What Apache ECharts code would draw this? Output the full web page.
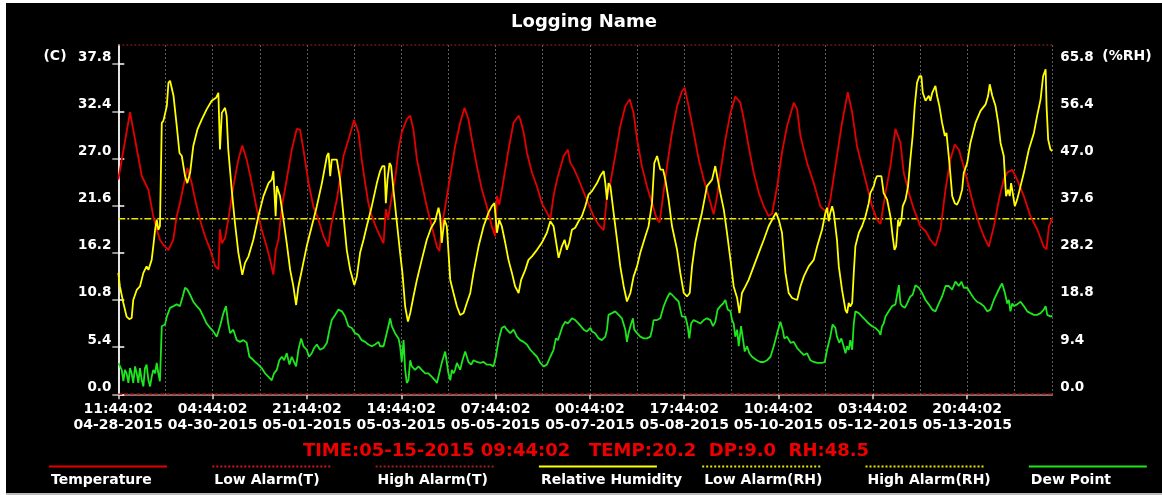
<!DOCTYPE html>
<html>
<head>
<meta charset="utf-8">
<script src="https://cdn.jsdelivr.net/npm/echarts@6/dist/echarts.min.js"></script>
<style>
  html, body { margin: 0; padding: 0; background: #ffffff; }
  #chart { width: 1162px; height: 495px; }
</style>
</head>
<body>
<div id="chart"></div>
<script>
// Logging session: hours since the first record
const startTime = Date.UTC(2015, 3, 28, 11, 44, 2);
const spanHours = 406;
const gridStepHours = 20.5;
const labelHours = [0, 41, 82, 123, 164, 205, 246, 287, 328, 369];

// Axis ticks
const tempTicks = [0.0, 5.4, 10.8, 16.2, 21.6, 27.0, 32.4, 37.8];
const rhTicks = [0.0, 9.4, 18.8, 28.2, 37.6, 47.0, 56.4, 65.8];
const tempMax = 40;
const rhMax = 65.8 * tempMax / 37.8;

// Alarm thresholds
const lowAlarmT = 0;
const highAlarmT = 40;
const lowAlarmRH = 35;
const highAlarmRH = 100;

// Readings: [hour, value]
const temperature = [
  [0,24.6],[5.1,32.3],[10.2,25.0],[13.1,23.4],[15.2,20.4],[16.7,18.9],[18.1,17.7],[19.6,17.1],[21.8,16.5],[23.9,17.7],
  [25.4,20.4],[26.8,21.9],[28.3,23.8],[30.0,25.9],[31.9,24.2],[33.4,22.3],[35.5,20.0],[37.7,18.1],[39.9,16.6],[42.1,14.7],
  [43.5,14.3],[44.2,18.9],[45.0,17.3],[46.4,17.9],[47.8,20.0],[50.0,23.8],[52.2,26.9],[53.9,28.5],[55.8,26.9],[58.0,24.2],
  [60.2,21.2],[62.3,18.9],[64.5,16.9],[66.0,15.4],[67.4,13.7],[68.5,16.6],[69.6,17.7],[71.1,21.5],[73.2,24.6],[75.4,28.0],
  [77.6,30.4],[79.0,30.3],[80.5,28.0],[82.7,24.2],[84.8,21.5],[87.0,20.0],[89.2,18.1],[91.3,16.9],[92.4,19.2],[93.2,19.4],
  [95.0,22.3],[97.9,27.3],[100.1,29.2],[102.5,31.4],[104.4,30.0],[105.8,26.9],[107.3,24.2],[108.7,21.9],[110.2,20.4],[112.4,18.9],
  [114.5,17.7],[115.3,17.3],[116.3,21.2],[117.2,20.0],[118.9,22.7],[120.3,24.6],[121.8,28.0],[123.2,30.0],[125.4,31.5],[126.9,31.9],
  [128.3,30.3],[129.8,26.9],[131.9,24.2],[134.1,21.5],[136.3,19.2],[138.5,16.9],[139.6,16.4],[140.6,19.2],[142.1,21.5],[144.3,25.0],
  [146.4,28.4],[148.6,31.1],[150.5,32.8],[152.2,31.5],[153.7,29.2],[155.9,26.1],[158.0,23.5],[160.2,21.5],[162.4,19.2],[163.8,18.1],
  [164.6,22.7],[165.6,21.7],[167.5,24.6],[169.6,28.0],[171.8,31.1],[174.0,31.9],[174.7,31.5],[176.2,30.0],[177.6,27.7],[179.8,25.4],
  [182.0,23.8],[184.1,21.9],[186.3,20.8],[187.8,20.1],[189.2,22.7],[190.7,24.6],[192.1,25.9],[193.6,27.3],[195.4,28.0],[196.5,26.5],
  [197.9,25.9],[200.1,24.6],[203.0,22.7],[206.6,20.4],[208.8,19.4],[211.0,18.8],[212.4,22.7],[213.9,24.2],[216.0,27.3],[218.2,30.7],
  [220.4,33.0],[222.3,33.8],[224.0,32.2],[225.5,29.2],[227.6,26.1],[229.8,23.8],[232.0,21.9],[234.2,20.0],[235.3,19.7],[236.8,22.7],
  [238.5,26.1],[240.7,30.0],[242.9,33.0],[245.0,34.7],[246.2,35.1],[247.9,33.0],[250.1,30.0],[252.3,26.9],[254.5,24.6],[256.6,22.7],
  [258.8,20.6],[260.3,22.7],[261.7,25.4],[263.9,29.2],[266.1,32.2],[268.2,34.1],[270.4,33.4],[271.9,31.5],[274.0,28.4],[276.2,25.4],
  [278.4,23.1],[280.6,21.5],[282.7,20.4],[284.2,20.7],[286.4,23.8],[288.5,27.7],[290.7,30.7],[293.6,33.4],[295.1,32.6],[296.5,29.6],
  [299.4,26.5],[302.3,24.2],[305.2,21.5],[308.1,20.8],[309.5,22.3],[311.7,26.1],[314.6,31.1],[317.1,34.6],[319.0,32.3],[321.1,28.4],
  [323.3,26.1],[325.5,23.8],[327.7,21.5],[329.8,20.0],[331.3,19.5],[333.5,23.1],[335.6,26.1],[337.8,30.4],[340.0,28.8],[341.4,25.4],
  [343.6,23.1],[345.8,21.2],[348.7,19.2],[350.9,18.7],[353.0,17.7],[355.2,17.0],[357.4,18.9],[359.6,23.5],[361.7,26.9],[363.6,28.6],
  [365.4,28.0],[367.5,26.1],[369.7,23.8],[371.9,21.5],[374.1,19.6],[376.2,18.1],[378.4,16.9],[380.6,19.2],[382.8,22.3],[384.9,24.6],
  [386.4,25.4],[388.6,25.7],[390.7,24.6],[393.6,22.7],[396.5,20.4],[399.4,18.9],[402.3,16.9],[403.5,16.6],[404.5,19.2],[406,20.2]
];

const humidity = [
  [0,24.2],[0.7,21.5],[2.2,18.2],[3.6,15.5],[4.8,15.0],[5.8,15.2],[6.5,18.8],[8.0,20.8],[9.4,21.5],[10.9,24.2],
  [12.3,25.5],[13.1,24.8],[14.5,26.8],[15.2,29.5],[16.0,32.8],[16.7,34.8],[17.4,32.8],[18.1,33.5],[18.9,54.1],[19.6,54.5],
  [21.1,57.5],[21.8,62.1],[22.5,62.5],[24.0,59.5],[25.4,53.5],[26.6,48.1],[27.6,47.5],[29.0,43.5],[30.0,42.1],[31.2,44.1],
  [32.6,49.5],[34.4,52.8],[36.3,54.8],[38.4,56.8],[40.6,58.5],[42.5,59.1],[43.5,60.1],[44.2,48.8],[45.0,56.1],[46.4,57.1],
  [47.1,55.5],[47.8,48.8],[49.3,40.8],[50.7,34.2],[52.2,28.2],[53.9,23.8],[55.1,26.2],[56.6,27.5],[58.7,30.8],[60.9,35.5],
  [63.1,39.5],[65.3,42.1],[66.7,42.8],[67.4,44.5],[68.4,35.5],[68.9,41.5],[70.3,39.5],[71.8,34.8],[73.2,30.2],[74.7,24.8],
  [76.1,21.5],[77.3,17.8],[78.3,21.5],[79.8,24.8],[81.9,29.5],[84.1,33.5],[86.3,37.5],[88.5,42.1],[90.7,47.5],[91.4,48.1],
  [92.1,43.5],[92.8,46.8],[93.5,46.5],[95.0,46.8],[96.4,42.8],[97.9,35.5],[99.3,28.8],[100.8,24.8],[102.6,21.8],[103.7,23.5],
  [105.1,28.2],[106.6,30.8],[108.0,33.5],[110.2,37.5],[112.4,42.1],[113.8,44.5],[114.8,45.5],[115.7,45.5],[116.3,38.1],[117.0,42.8],
  [117.9,46.1],[118.6,45.5],[119.6,40.8],[121.1,34.2],[122.5,28.2],[123.5,24.2],[124.7,17.5],[125.9,14.5],[126.9,16.2],[128.3,19.5],
  [129.8,22.8],[131.9,26.8],[134.1,30.8],[136.0,33.2],[137.7,34.5],[139.2,37.2],[139.9,35.5],[140.6,30.2],[141.1,32.2],[141.8,34.8],
  [142.8,33.5],[144.3,22.8],[145.7,20.2],[147.2,17.5],[148.6,15.8],[150.1,16.2],[151.5,18.2],[153.0,20.2],[154.4,24.2],[156.6,29.5],
  [158.8,33.5],[160.9,36.2],[162.4,37.5],[163.5,38.1],[164.6,32.2],[165.6,34.8],[166.7,33.5],[168.2,30.2],[169.6,26.8],[171.1,24.2],
  [172.5,21.5],[174.0,20.2],[175.1,22.8],[176.9,24.8],[178.3,26.8],[179.8,27.5],[182.0,28.8],[184.1,30.2],[186.3,32.2],[187.8,34.5],
  [189.2,33.5],[191.4,27.2],[192.8,29.5],[194.0,30.8],[195.0,28.8],[196.0,30.2],[197.2,32.8],[198.6,33.2],[200.1,34.5],[201.5,35.5],
  [203.0,37.5],[204.4,39.8],[205.9,40.5],[208.1,42.1],[209.5,43.5],[211.0,44.5],[211.7,42.1],[212.4,38.8],[213.1,42.1],[213.9,41.5],
  [215.3,36.2],[216.8,30.8],[218.2,25.5],[219.7,21.5],[221.1,18.5],[222.6,20.2],[224.0,23.5],[225.5,25.5],[226.9,28.2],[229.1,31.5],
  [230.5,33.5],[232.0,38.1],[233.0,46.1],[234.2,47.5],[234.9,47.5],[235.6,44.8],[236.8,44.8],[237.8,42.8],[239.2,38.8],[240.7,33.5],
  [242.9,28.8],[244.3,24.2],[245.8,20.2],[247.2,19.5],[248.4,20.2],[249.4,25.5],[250.8,30.2],[252.3,33.5],[253.7,36.2],[255.9,41.5],
  [258.1,42.8],[259.5,45.5],[260.3,43.5],[261.7,40.1],[263.2,36.8],[264.6,32.2],[266.1,26.8],[267.5,21.5],[269.0,19.2],[270.0,16.2],
  [271.1,20.2],[272.6,21.5],[274.0,22.8],[276.2,25.5],[278.4,28.2],[280.6,30.8],[282.7,33.5],[284.2,34.8],[285.9,36.2],[287.1,34.8],
  [288.5,32.2],[290.0,24.2],[291.4,20.2],[292.9,19.2],[295.1,18.8],[296.5,21.5],[298.0,23.5],[300.1,25.5],[302.3,26.8],[303.8,29.5],
  [305.9,32.8],[307.4,36.2],[308.1,37.2],[308.8,34.5],[309.5,36.2],[310.3,37.5],[311.0,36.2],[311.7,33.5],[312.4,30.8],[313.2,25.5],
  [314.6,20.8],[316.1,16.8],[316.8,16.2],[317.5,18.2],[318.2,17.5],[319.0,18.2],[319.7,24.2],[320.4,29.5],[321.9,32.2],[323.3,33.5],
  [324.8,35.5],[326.2,38.1],[326.9,40.1],[328.4,41.5],[329.1,42.8],[329.8,43.5],[331.7,43.5],[332.7,40.1],[334.2,38.8],[335.6,35.5],
  [336.6,31.5],[337.4,28.8],[338.1,29.5],[339.0,34.8],[339.5,33.5],[340.4,34.8],[341.0,37.5],[342.2,38.8],[343.3,41.5],[344.3,46.8],
  [345.3,51.5],[346.2,57.5],[347.2,62.1],[348.2,63.4],[349.1,63.4],[349.7,60.1],[350.9,58.5],[352.3,59.5],[353.0,58.5],[353.8,60.1],
  [355.2,61.5],[355.9,59.5],[356.9,57.5],[358.1,54.1],[359.3,51.5],[360.0,52.1],[360.7,48.8],[361.4,45.5],[362.5,39.5],[363.6,38.1],
  [364.6,37.8],[365.6,38.8],[366.8,40.8],[367.5,44.1],[369.0,46.1],[370.4,50.1],[372.6,54.1],[374.8,56.5],[377.0,57.8],[378.1,59.5],
  [378.8,61.8],[379.9,59.5],[381.3,57.5],[382.5,54.1],[383.5,50.1],[384.9,47.5],[385.9,39.5],[386.8,40.8],[387.5,39.5],[388.1,42.1],
  [388.8,40.1],[389.7,37.5],[390.7,38.8],[392.2,41.5],[393.6,44.1],[395.8,48.8],[398.0,52.1],[399.4,55.5],[400.9,58.8],[402.0,63.4],
  [403.1,64.8],[403.5,57.5],[404.2,50.8],[405.2,48.8],[406,48.5]
];

const dewPoint = [
  [0,3.6],[0.7,3.4],[1.5,2.8],[2.2,1.5],[2.9,2.8],[3.6,2.4],[4.4,1.3],[5.1,3.0],[5.8,2.4],[6.5,1.3],
  [7.3,3.2],[8.0,2.4],[8.7,1.3],[9.4,3.0],[10.2,1.6],[10.9,0.9],[11.6,3.0],[12.3,3.4],[13.1,1.6],[13.8,0.9],
  [14.5,2.0],[15.2,2.8],[16.0,2.4],[16.7,3.6],[17.4,2.4],[18.1,1.5],[18.9,7.8],[20.3,8.0],[21.1,8.9],[22.5,9.9],
  [24.0,10.1],[25.4,10.3],[26.8,10.1],[28.0,11.2],[29.0,12.2],[30.0,12.0],[31.2,11.4],[32.6,10.6],[34.1,10.1],[35.5,9.7],
  [37.0,8.9],[38.4,8.1],[39.9,7.6],[41.3,7.2],[42.8,6.6],[43.5,6.8],[44.2,7.8],[45.7,9.3],[46.8,10.1],[47.8,8.1],
  [48.6,7.0],[50.0,7.4],[51.5,6.2],[52.9,6.0],[54.4,6.2],[55.8,5.9],[57.0,4.3],[58.0,4.1],[59.5,3.7],[60.9,3.4],
  [62.3,3.0],[63.8,2.4],[65.3,2.0],[66.7,1.6],[67.7,2.4],[68.9,2.8],[70.0,3.9],[71.1,4.3],[72.1,3.9],[73.2,4.7],
  [74.4,3.4],[75.4,4.3],[76.4,3.7],[77.3,3.2],[78.3,5.1],[79.5,6.4],[80.5,5.5],[81.9,5.1],[82.9,4.3],[84.1,4.7],
  [85.1,5.3],[86.3,5.7],[87.7,5.1],[89.2,5.3],[90.7,5.9],[91.8,7.4],[92.8,8.5],[94.3,9.1],[95.7,9.7],[97.2,9.5],
  [98.6,8.9],[100.0,7.8],[101.5,7.6],[102.9,7.0],[104.4,6.8],[105.8,6.2],[107.3,6.0],[108.7,5.7],[110.2,5.5],[111.6,5.7],
  [113.1,6.0],[113.8,5.5],[115.3,5.5],[116.3,6.6],[117.4,7.8],[118.2,8.7],[118.9,7.8],[120.3,7.0],[121.8,6.4],[122.5,5.5],
  [123.2,3.7],[124.0,6.2],[124.7,2.8],[125.4,1.3],[126.1,1.6],[126.9,3.9],[127.6,3.2],[129.0,2.8],[130.5,3.2],[131.9,2.8],
  [133.4,2.4],[134.8,2.4],[136.3,2.0],[137.7,1.6],[138.5,1.3],[139.2,1.3],[140.6,3.6],[142.1,4.9],[142.8,5.1],[143.5,2.4],
  [144.3,1.6],[145.0,2.8],[145.7,2.4],[146.4,2.8],[147.2,3.6],[148.6,2.8],[149.6,3.9],[150.8,4.9],[151.5,4.7],[152.2,3.7],
  [153.4,3.4],[154.4,3.9],[155.9,3.7],[157.3,3.6],[158.8,3.7],[160.2,3.4],[161.7,3.4],[163.1,3.2],[164.1,4.3],[165.3,6.2],
  [166.7,7.6],[167.9,7.8],[168.9,7.4],[170.4,7.0],[171.8,7.4],[173.3,6.6],[174.7,6.2],[176.2,6.0],[177.6,5.7],[179.1,5.1],
  [180.5,4.7],[182.0,4.3],[183.4,3.6],[184.9,3.2],[186.3,3.4],[187.8,4.3],[189.2,5.1],[190.2,6.4],[191.1,6.2],[192.1,7.0],
  [193.1,7.8],[194.3,8.3],[195.4,8.1],[197.2,8.7],[198.6,8.5],[200.1,8.1],[202.3,7.4],[203.7,7.2],[205.2,7.6],[205.9,7.2],
  [207.3,7.0],[208.8,6.4],[210.2,6.2],[211.7,6.6],[212.4,7.4],[213.1,9.1],[214.6,9.3],[216.0,9.5],[217.5,9.1],[218.9,8.7],
  [220.4,7.4],[221.1,6.0],[221.8,7.0],[222.6,7.8],[223.7,8.7],[224.3,7.4],[225.5,7.0],[226.9,6.6],[228.4,6.4],[229.8,6.4],
  [231.3,6.6],[232.0,7.4],[232.7,8.5],[234.2,8.5],[235.6,8.7],[237.1,10.1],[238.5,11.0],[239.7,11.6],[240.7,11.4],[242.1,11.0],
  [243.6,10.6],[244.3,9.7],[245.0,8.9],[246.5,8.9],[247.5,7.8],[248.2,6.4],[249.0,8.1],[250.1,8.5],[251.6,8.3],[253.0,8.1],
  [254.5,8.5],[255.9,8.7],[257.4,8.5],[258.5,7.8],[259.5,8.3],[260.5,9.7],[261.7,10.1],[262.9,10.4],[263.9,10.8],[264.9,9.7],
  [266.1,9.5],[266.8,8.5],[267.5,8.1],[268.2,6.6],[269.0,7.4],[269.7,5.5],[270.7,7.8],[271.6,6.2],[272.3,4.9],[273.3,5.5],
  [274.3,4.7],[275.5,4.3],[276.5,4.1],[277.6,3.9],[279.1,3.7],[280.6,3.7],[282.0,3.9],[283.5,4.3],[284.9,5.5],[286.4,7.0],
  [287.8,8.3],[288.8,7.4],[289.5,6.4],[290.7,6.6],[292.2,5.9],[293.6,6.0],[295.1,5.3],[296.5,4.9],[298.0,4.5],[299.4,4.7],
  [300.8,3.9],[302.3,3.7],[303.8,3.6],[305.9,3.6],[307.1,3.7],[308.1,5.1],[309.5,6.6],[310.5,8.0],[311.7,7.6],[312.4,6.6],
  [313.4,5.9],[314.3,6.4],[315.3,5.5],[316.1,4.7],[316.8,5.5],[317.5,5.1],[318.2,6.2],[319.0,5.1],[319.7,8.1],[320.4,9.5],
  [321.9,9.3],[323.3,8.9],[324.8,8.5],[326.2,8.1],[327.7,7.8],[329.1,7.6],[330.6,7.2],[331.3,6.8],[332.0,7.8],[332.7,8.1],
  [333.5,8.9],[334.9,9.5],[336.4,10.1],[337.8,10.3],[338.5,10.1],[339.3,12.5],[340.0,10.4],[340.7,10.1],[341.9,9.9],[342.9,10.4],
  [344.3,11.2],[345.3,11.4],[346.5,12.5],[348.0,12.2],[349.4,11.6],[350.9,10.8],[352.3,10.3],[353.8,9.7],[355.2,9.5],[356.7,10.4],
  [358.1,11.2],[359.6,12.4],[361.0,12.4],[362.5,12.0],[363.9,12.9],[365.4,12.4],[366.5,12.9],[367.5,12.2],[369.0,12.2],[370.4,11.6],
  [371.9,11.0],[373.3,10.6],[374.8,10.4],[376.2,10.1],[377.7,9.5],[379.1,9.7],[380.6,10.8],[382.0,11.6],[383.5,12.4],[384.2,12.7],
  [385.4,11.6],[386.4,10.4],[387.1,10.8],[387.8,9.5],[388.6,10.4],[389.3,10.1],[390.7,10.3],[392.2,10.6],[393.6,10.1],[395.1,9.5],
  [396.5,9.3],[398.0,9.1],[399.4,9.1],[400.9,9.3],[402.3,9.7],[403.1,10.1],[403.8,9.1],[405.2,8.9],[406,9.0]
];

const lastReading = { time: '05-15-2015 09:44:02', temp: 20.2, dp: 9.0, rh: 48.5 };

const FONT = 'DejaVu Sans';
const RED = '#e40000';
const YELLOW = '#ffff00';
const GREEN = '#1ee61e';
const ALARM_RED = '#d01818';
const ALARM_YELLOW = '#e8e800';

function pad(n) { return (n < 10 ? '0' : '') + n; }
function stamp(h) {
  const d = new Date(startTime + h * 3600000);
  return pad(d.getUTCHours()) + ':' + pad(d.getUTCMinutes()) + ':' + pad(d.getUTCSeconds()) + '\n' +
    pad(d.getUTCMonth() + 1) + '-' + pad(d.getUTCDate()) + '-' + d.getUTCFullYear();
}
function flat(v) { return [[0, v], [spanHours, v]]; }

const seriesDefs = [
  { name: 'Temperature', data: temperature, axis: 0, color: RED, type: 'solid', width: 1.8 },
  { name: 'Low Alarm(T)', data: flat(lowAlarmT), axis: 0, color: ALARM_RED, type: [4, 2], width: 1.5, clip: false },
  { name: 'High Alarm(T)', data: flat(highAlarmT), axis: 0, color: '#a02020', type: [2, 2], width: 1, clip: false },
  { name: 'Relative Humidity', data: humidity, axis: 1, color: YELLOW, type: 'solid', width: 1.8 },
  { name: 'Low Alarm(RH)', data: flat(lowAlarmRH), axis: 1, color: ALARM_YELLOW, type: [7, 2, 2, 2], width: 1.5 },
  { name: 'High Alarm(RH)', data: flat(highAlarmRH), axis: 1, color: ALARM_YELLOW, type: [7, 2, 2, 2], width: 1.5 },
  { name: 'Dew Point', data: dewPoint, axis: 0, color: GREEN, type: 'solid', width: 1.8 }
];

const legendGraphics = [];
seriesDefs.forEach(function (s, i) {
  const x = 49 + i * 163.3;
  legendGraphics.push({
    type: 'line', shape: { x1: x, y1: 466.5, x2: x + 118, y2: 466.5 },
    style: { stroke: s.color, lineWidth: 2, lineDash: s.type === 'solid' ? null : [2, 2] }
  });
  legendGraphics.push({
    type: 'text', x: x + 2, y: 480,
    style: { text: s.name, fill: '#ffffff', font: 'bold 14px "' + FONT + '"', textAlign: 'left', textVerticalAlign: 'middle' }
  });
});

// Window frame: light strip on the left and top, grey rule along the bottom
const frameGraphics = [
  { type: 'rect', z: 100, shape: { x: 0, y: 0, width: 6, height: 495 }, style: { fill: '#ffffff' } },
  { type: 'rect', z: 100, shape: { x: 0, y: 0, width: 1162, height: 3 }, style: { fill: '#ffffff' } },
  { type: 'rect', z: 100, shape: { x: 6, y: 493, width: 1156, height: 2 }, style: { fill: '#bcbcbc' } }
];

const chart = echarts.init(document.getElementById('chart'), null, { renderer: 'canvas' });
chart.setOption({
  animation: false,
  backgroundColor: '#000000',
  grid: { left: 118.3, right: 109.7, top: 45, bottom: 100.7, containLabel: false },
  xAxis: [
    {
      type: 'value', min: 0, max: spanHours, interval: gridStepHours,
      axisLine: { show: true, lineStyle: { color: '#9a9a9a', width: 1.5 } },
      axisTick: { show: false }, axisLabel: { show: false },
      splitLine: { show: true, lineStyle: { color: '#5e5e5e', width: 1, type: [2, 2] } }
    },
    {
      type: 'value', min: 0, max: spanHours, position: 'bottom',
      axisLine: { show: false },
      axisTick: { show: true, customValues: labelHours, length: 5, lineStyle: { color: '#d8d8d8', width: 1.5 } },
      axisLabel: {
        show: true, customValues: labelHours, margin: 7,
        color: '#ffffff', fontFamily: FONT, fontWeight: 'bold', fontSize: 14, lineHeight: 16,
        formatter: function (v) { return stamp(v); }
      },
      splitLine: { show: false }
    }
  ],
  yAxis: [
    {
      type: 'value', min: 0, max: tempMax, position: 'left',
      axisLine: { show: true, lineStyle: { color: '#bdbdbd', width: 1.5 } },
      axisTick: { show: true, customValues: tempTicks, length: 6, lineStyle: { color: '#bdbdbd', width: 1.5 } },
      axisLabel: {
        customValues: tempTicks, margin: 7, verticalAlign: 'bottom',
        color: '#ffffff', fontFamily: FONT, fontWeight: 'bold', fontSize: 13.5,
        formatter: function (v) { return v.toFixed(1); }
      },
      splitLine: { show: false }
    },
    {
      type: 'value', min: 0, max: rhMax, position: 'right',
      axisLine: { show: true, lineStyle: { color: '#ffffff', width: 1.5 } },
      axisTick: { show: true, customValues: rhTicks, length: 6, lineStyle: { color: '#ffffff', width: 1.5 } },
      axisLabel: {
        customValues: rhTicks, margin: 8, verticalAlign: 'bottom',
        color: '#ffffff', fontFamily: FONT, fontWeight: 'bold', fontSize: 13.5,
        formatter: function (v) { return v.toFixed(1); }
      },
      splitLine: { show: false }
    }
  ],
  series: seriesDefs.map(function (s) {
    return {
      name: s.name, type: 'line', xAxisIndex: 0, yAxisIndex: s.axis, data: s.data,
      showSymbol: false, symbol: 'none', clip: s.clip !== false,
      lineStyle: { color: s.color, width: s.width, type: s.type },
      z: s.type === 'solid' ? 3 : 2
    };
  }),
  graphic: [
    { type: 'text', x: 584, y: 22, style: { text: 'Logging Name', fill: '#ffffff', font: 'bold 18px "' + FONT + '"', textAlign: 'center', textVerticalAlign: 'middle' } },
    { type: 'text', x: 55, y: 56, style: { text: '(C)', fill: '#ffffff', font: 'bold 14px "' + FONT + '"', textAlign: 'center', textVerticalAlign: 'middle' } },
    { type: 'text', x: 1127, y: 56, style: { text: '(%RH)', fill: '#ffffff', font: 'bold 14px "' + FONT + '"', textAlign: 'center', textVerticalAlign: 'middle' } },
    { type: 'text', x: 586, y: 451, style: {
        text: 'TIME:' + lastReading.time + '   TEMP:' + lastReading.temp.toFixed(1) + '  DP:' + lastReading.dp.toFixed(1) + '  RH:' + lastReading.rh.toFixed(1),
        fill: '#ee0000', font: 'bold 18px "' + FONT + '"', textAlign: 'center', textVerticalAlign: 'middle' } }
  ].concat(legendGraphics).concat(frameGraphics)
});
</script>
</body>
</html>
